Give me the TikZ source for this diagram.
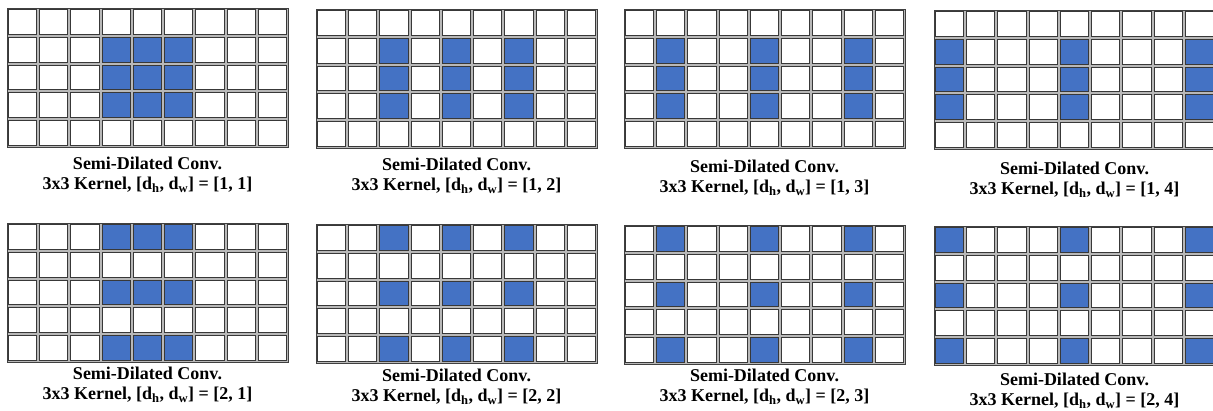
\documentclass[tikz,border=0pt]{standalone}
\usepackage{fontspec}
\setmainfont{Liberation Serif}
\usetikzlibrary{positioning}
\definecolor{kernblue}{HTML}{4472C4}

\begin{document}
\begin{tikzpicture}[
  x=1pt,y=-1pt,
  frame/.style={draw=black!75,fill=black!28,line width=1pt},
  cell/.style={draw=black!78,fill=white,line width=1pt},
  kern/.style={cell,fill=kernblue},
  lbl/.style={font=\fontsize{18}{20}\selectfont\bfseries,align=center}
]
\useasboundingbox (0,0) rectangle (1213,410);
\def\cw{31.22}
\def\ch{27.8}

% ---- panels: x, y, d_h, d_w, caption y ----
\foreach \px/\py/\dh/\dw/\ty [count=\k] in {
    7/8/1/1/165, 316/9/1/2/166, 624/9/1/3/168, 934/10/1/4/170,
    7/223/2/1/375, 316/224/2/2/377, 624/225/2/3/377, 934/226/2/4/381}{
  % ---- 9x5 feature grid ----
  \draw[frame] (\px,\py) rectangle ++(281,139);
  \foreach \i in {0,...,8}
    \foreach \j in {0,...,4}
      \draw[cell] (\px+\i*\cw+1.5,\py+\j*\ch+1.5) rectangle ++(\cw-3,\ch-3);
  % ---- dilated 3x3 kernel taps ----
  \foreach \a in {-1,0,1}
    \foreach \b in {-1,0,1}
      \draw[kern] ({\px+(4+\b*\dw)*\cw+1.5},{\py+(2+\a*\dh)*\ch+1.5}) rectangle ++(\cw-3,\ch-3);
  \node[lbl] (lab\k) at (\px+140.5,\ty+10)
    {Semi-Dilated Conv.\\3x3 Kernel, [d\textsubscript{h}, d\textsubscript{w}] = [\dh, \dw]};
}
\end{tikzpicture}
\end{document}
